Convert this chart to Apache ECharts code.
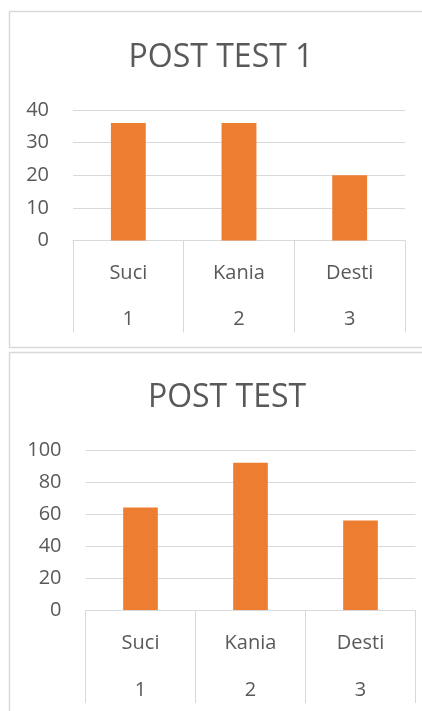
<!DOCTYPE html>
<html>
<head>
<meta charset="utf-8">
<script src="https://cdn.jsdelivr.net/npm/echarts@6/dist/echarts.min.js"></script>
<style>
html,body{margin:0;padding:0;background:#fff;}
#c{width:422px;height:711px;}
</style>
</head>
<body>
<div id="c"></div>
<script>
var names = ['Suci', 'Kania', 'Desti'];
var numbers = ['1', '2', '3'];
var title1 = 'POST TEST 1';
var title2 = 'POST TEST';
var values1 = [36, 36, 20];
var values2 = [64, 92, 56];

var FONT = 'Open Sans';
var TXT = '#595959';
var LINE = '#D9D9D9';
var BAR = '#ED7D31';

function nameAxis(gi, data, tickLen) {
  return {
    type: 'category', gridIndex: gi, data: data, position: 'bottom',
    axisLine: {show: true, lineStyle: {color: LINE, width: 1}},
    axisTick: {show: true, length: tickLen, lineStyle: {color: LINE, width: 1}},
    axisLabel: {color: TXT, fontFamily: FONT, fontSize: 20, margin: 22, lineHeight: 22},
    splitLine: {show: false}
  };
}
function numAxis(gi, data, margin) {
  return {
    type: 'category', gridIndex: gi, data: data, position: 'bottom',
    axisLine: {show: false}, axisTick: {show: false},
    axisLabel: {color: TXT, fontFamily: FONT, fontSize: 20, margin: margin, lineHeight: 22},
    splitLine: {show: false}
  };
}
function valAxis(gi, max, interval) {
  return {
    type: 'value', gridIndex: gi, min: 0, max: max, interval: interval,
    axisLine: {show: false}, axisTick: {show: false},
    axisLabel: {color: TXT, fontFamily: FONT, fontSize: 20, margin: 24},
    splitLine: {show: true, lineStyle: {color: LINE, width: 1}}
  };
}

var chart = echarts.init(document.getElementById('c'), null, {renderer: 'canvas'});
chart.setOption({
  animation: false,
  backgroundColor: '#fff',
  title: [
    {text: title1, left: 221, top: 58, textAlign: 'center', textVerticalAlign: 'middle', padding: 0,
     textStyle: {color: TXT, fontFamily: FONT, fontSize: 32, fontWeight: 'normal'}},
    {text: title2, left: 227, top: 398, textAlign: 'center', textVerticalAlign: 'middle', padding: 0,
     textStyle: {color: TXT, fontFamily: FONT, fontSize: 32, fontWeight: 'normal'}}
  ],
  graphic: [
    {type: 'rect', shape: {x: 9.5, y: 11.5, width: 440, height: 336}, style: {fill: 'none', stroke: LINE, lineWidth: 1.5}, silent: true, z: -1},
    {type: 'rect', shape: {x: 9.5, y: 352.5, width: 440, height: 400}, style: {fill: 'none', stroke: LINE, lineWidth: 1.5}, silent: true, z: -1}
  ],
  grid: [
    {left: 73, right: 17, top: 110, height: 130.5, containLabel: false},
    {left: 85.5, right: 6.5, top: 450, height: 160, containLabel: false}
  ],
  xAxis: [
    nameAxis(0, names, 92),
    numAxis(0, numbers, 68),
    nameAxis(1, names, 93),
    numAxis(1, numbers, 69)
  ],
  yAxis: [
    valAxis(0, 40, 10),
    valAxis(1, 100, 20)
  ],
  series: [
    {type: 'bar', xAxisIndex: 0, yAxisIndex: 0, data: values1, barWidth: '31.5%', itemStyle: {color: BAR}},
    {type: 'bar', xAxisIndex: 2, yAxisIndex: 1, data: values2, barWidth: '31.5%', itemStyle: {color: BAR}}
  ]
});
</script>
</body>
</html>
